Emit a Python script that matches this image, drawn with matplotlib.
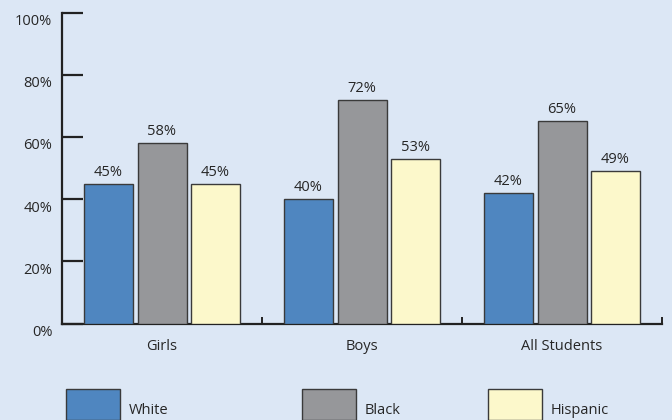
import numpy as np
import matplotlib
matplotlib.use('Agg')
from matplotlib import pyplot as plt
from matplotlib.patches import Rectangle
from matplotlib.transforms import ScaledTranslation

groups = ['Girls', 'Boys', 'All Students']
series = ['White', 'Black', 'Hispanic']
white = [45, 40, 42]
black = [58, 72, 65]
hispanic = [45, 53, 49]
yticks = [0, 20, 40, 60, 80, 100]

bg = '#dce7f5'
colors = ['#4f86c0', '#96979a', '#fcf8cb']
edge = '#3a3a3a'
txt = '#262626'
fs = 10.5

plt.rcParams['font.family'] = ['Open Sans', 'DejaVu Sans']
fig = plt.figure(figsize=(6.72, 4.2), dpi=100, facecolor=bg)
ax = fig.add_axes([62 / 672, 96.5 / 420, 600 / 672, 311 / 420])
ax.set_facecolor(bg)

x = np.arange(len(groups))
w = 0.245
step = 0.2675
for i, vals in enumerate([white, black, hispanic]):
    pos = x + (i - 1) * step
    ax.bar(pos, vals, width=w, color=colors[i], edgecolor=edge, linewidth=1.0, zorder=3)
    for p, v in zip(pos, vals):
        ax.text(p, v + 1.3, f'{v}%', ha='center', va='bottom', fontsize=fs, color=txt)

ax.set_xlim(-0.5, 2.5)
ax.set_ylim(0, 100)
for s in ['top', 'right']:
    ax.spines[s].set_visible(False)
for s in ['left', 'bottom']:
    ax.spines[s].set_color('#222222')
    ax.spines[s].set_linewidth(1.6)

ax.set_yticks(yticks)
ax.set_yticklabels([f'{t}%' for t in yticks], fontsize=fs, color=txt)
ax.tick_params(axis='y', direction='in', length=15, width=1.6, color='#222222', pad=7)
# labels sit a little below their ticks in the original
shift = ScaledTranslation(0, -5 / 72, fig.dpi_scale_trans)
for lab in ax.get_yticklabels():
    lab.set_transform(lab.get_transform() + shift)

# group boundary ticks on the x axis
ax.set_xticks([0.5, 1.5, 2.5])
ax.set_xticklabels([])
ax.tick_params(axis='x', direction='in', length=5, width=1.4, color='#222222')
for xi, g in zip(x, groups):
    ax.text(xi, -5.0, g, ha='center', va='top', fontsize=fs, color=txt)

# legend along the bottom
leg_x = [66, 302, 488]
for lx, c, name in zip(leg_x, colors, series):
    fig.patches.append(Rectangle((lx / 672, 0), 54 / 672, 31 / 420, transform=fig.transFigure,
                                 facecolor=c, edgecolor=edge, linewidth=1.0))
    fig.text((lx + 63) / 672, 10 / 420, name, ha='left', va='center', fontsize=fs, color=txt)

fig.savefig('out.png', dpi=100, facecolor=bg)
